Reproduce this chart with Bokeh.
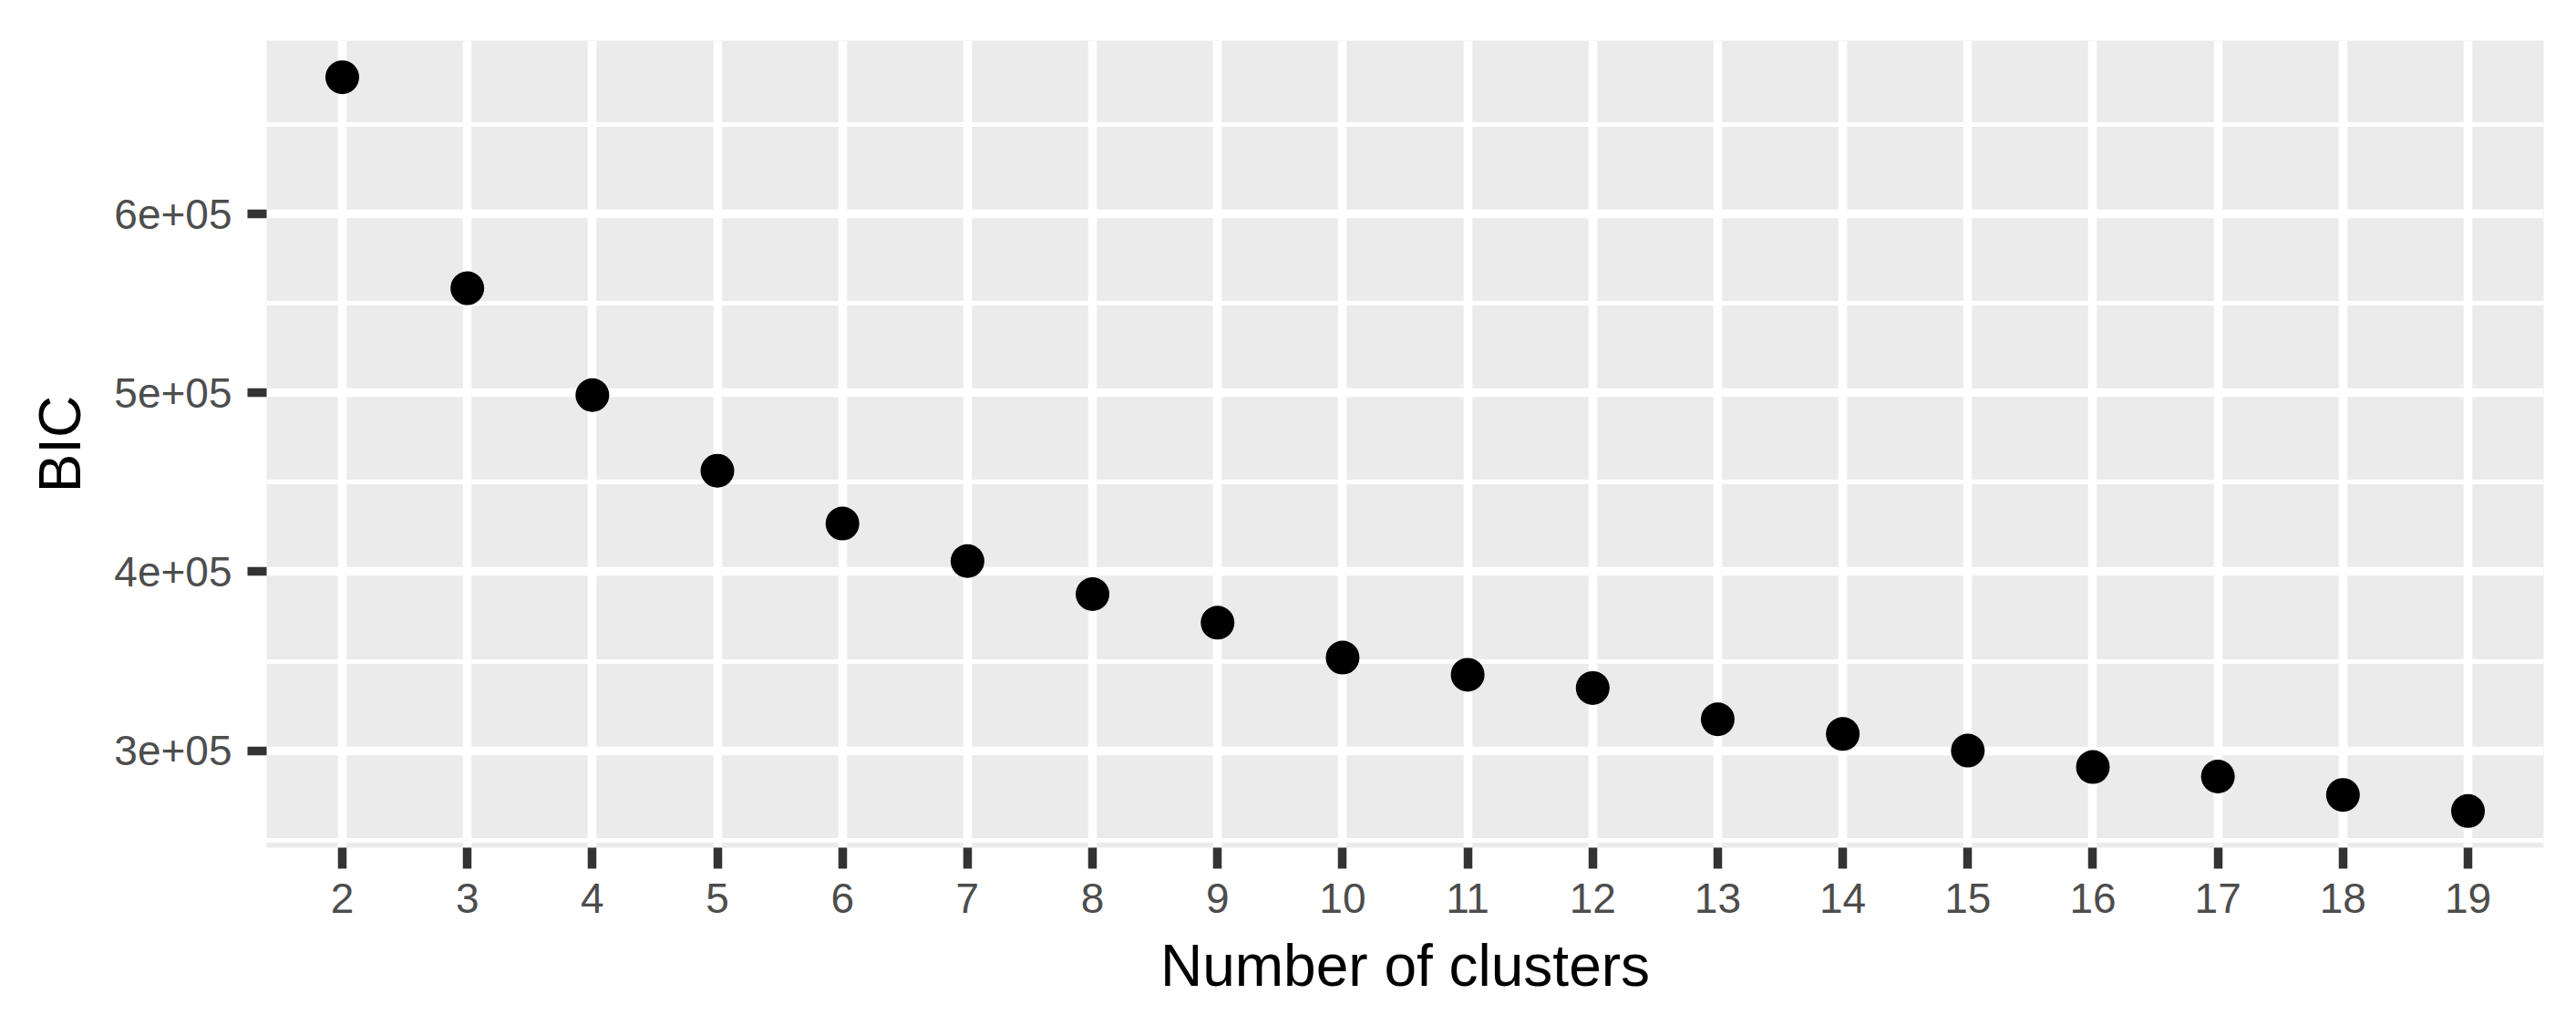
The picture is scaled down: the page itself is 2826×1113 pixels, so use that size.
from bokeh.plotting import figure
from bokeh.models import Range1d, FixedTicker, ColumnDataSource
from bokeh.embed import file_html
from bokeh.resources import INLINE

# ---- data ----
clusters = [2, 3, 4, 5, 6, 7, 8, 9, 10, 11, 12, 13, 14, 15, 16, 17, 18, 19]
bic = [676600, 558600, 498800, 456500, 427000, 406000, 387500, 371500, 352000,
       342400, 335000, 317500, 309300, 300000, 290800, 285500, 275200, 266200]
y_ticks = [300000, 400000, 500000, 600000]
y_tick_labels = ["3e+05", "4e+05", "5e+05", "6e+05"]
y_minor = [250000, 350000, 450000, 550000, 650000]
x_title = "Number of clusters"
y_title = "BIC"

FONT = "Liberation Sans"

src = ColumnDataSource(dict(x=clusters, y=bic))

p = figure(
    output_backend="svg", toolbar_location=None,
    frame_width=2498, frame_height=885,
    min_border_left=292, min_border_right=28, min_border_top=44, min_border_bottom=176,
    x_range=Range1d(1.395, 19.605), y_range=Range1d(245700, 697100),
)
p.background_fill_color = "#EBEBEB"
p.border_fill_color = "white"
p.outline_line_color = None

# grids
p.xgrid.ticker = FixedTicker(ticks=clusters)
p.xgrid.grid_line_color = "white"
p.xgrid.grid_line_width = 9.5
p.ygrid.ticker = FixedTicker(ticks=y_ticks, minor_ticks=y_minor)
p.ygrid.grid_line_color = "white"
p.ygrid.grid_line_width = 9.4
p.ygrid.minor_grid_line_color = "white"
p.ygrid.minor_grid_line_width = 4.8

# x axis
xa = p.xaxis[0]
xa.ticker = FixedTicker(ticks=clusters)
xa.axis_line_color = None
xa.major_tick_line_color = "#333333"
xa.major_tick_line_width = 9.5
xa.major_tick_out = 23
xa.major_tick_in = 0
xa.minor_tick_line_color = None
xa.major_label_text_font = FONT
xa.major_label_text_font_size = "46px"
xa.major_label_text_color = "#4D4D4D"
xa.major_label_standoff = 16
xa.axis_label = x_title
xa.axis_label_text_font = FONT
xa.axis_label_text_font_size = "64px"
xa.axis_label_text_font_style = "normal"
xa.axis_label_text_color = "black"
xa.axis_label_standoff = 19

# y axis
ya = p.yaxis[0]
ya.ticker = FixedTicker(ticks=y_ticks, minor_ticks=y_minor)
ya.major_label_overrides = {t: l for t, l in zip(y_ticks, y_tick_labels)}
ya.axis_line_color = None
ya.major_tick_line_color = "#333333"
ya.major_tick_line_width = 9.4
ya.major_tick_out = 21
ya.major_tick_in = 0
ya.minor_tick_line_color = None
ya.major_label_text_font = FONT
ya.major_label_text_font_size = "46px"
ya.major_label_text_color = "#4D4D4D"
ya.major_label_standoff = 17
ya.axis_label = y_title
ya.axis_label_text_font = FONT
ya.axis_label_text_font_size = "64px"
ya.axis_label_text_font_style = "normal"
ya.axis_label_text_color = "black"
ya.axis_label_standoff = 20

p.scatter("x", "y", source=src, size=37, fill_color="black", line_color="black", line_width=0)

open("out.html", "w").write(file_html(p, INLINE))
